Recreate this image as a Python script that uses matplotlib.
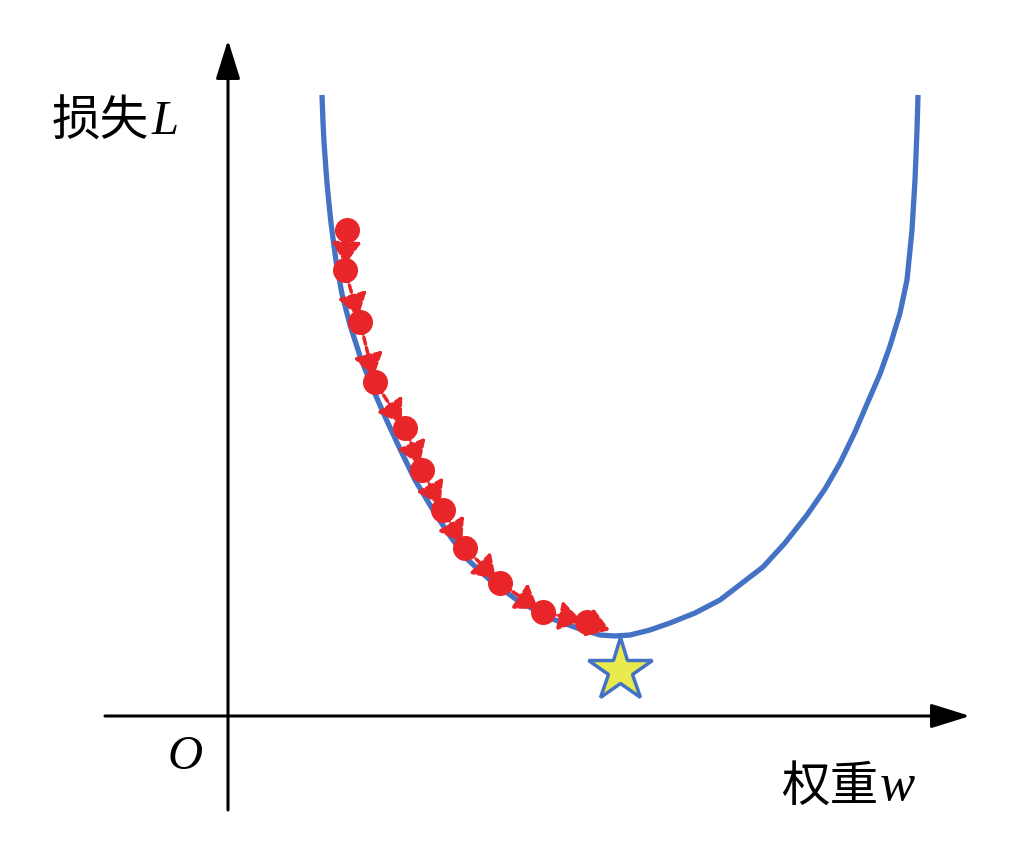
import numpy as np
import matplotlib
matplotlib.use('Agg')
import matplotlib.pyplot as plt

# loss curve L(w), left and right branch
left_w = [0.94, 0.95, 0.96, 0.98, 0.99, 1.01, 1.03, 1.08, 1.14, 1.22, 1.32,
          1.44, 1.59, 1.72, 1.87, 2.05, 2.22, 2.39, 2.62, 2.89, 3.19, 3.49,
          3.72, 3.87, 4.02]
left_L = [6.21, 5.94, 5.74, 5.46, 5.33, 5.12, 4.93, 4.55, 4.22, 3.91, 3.60,
          3.29, 2.95, 2.67, 2.36, 2.06, 1.80, 1.57, 1.36, 1.16, 0.99, 0.88,
          0.81, 0.80, 0.81]
right_w = [4.22, 4.42, 4.67, 4.92, 5.35, 5.57, 5.79, 5.97, 6.12, 6.27, 6.39,
           6.52, 6.62, 6.72, 6.79, 6.84, 6.87, 6.89, 6.90]
right_L = [0.86, 0.93, 1.03, 1.16, 1.49, 1.73, 2.01, 2.27, 2.53, 2.84, 3.12,
           3.42, 3.70, 4.03, 4.36, 4.86, 5.36, 5.86, 6.21]

# gradient descent steps
step_w = [1.19, 1.17, 1.32, 1.47, 1.77, 1.94, 2.15, 2.37, 2.72, 3.15, 3.59]
step_L = [4.86, 4.46, 3.94, 3.34, 2.88, 2.46, 2.06, 1.68, 1.33, 1.04, 0.94]
end_w, end_L = 3.87, 0.84

# optimum
star_w, star_L = 3.92, 0.46

blue = '#4472C4'
red = '#E8262A'

fig = plt.figure(figsize=(10.24, 8.56), dpi=100)
ax = fig.add_axes([0, 0, 1, 1])
ax.set_xlim(-2.28, 7.96)
ax.set_ylim(-1.40, 7.16)
ax.axis('off')

# axes with arrows
axis_style = '-|>,head_length=0.8,head_width=0.25'
ax.annotate('', xy=(7.42, 0), xytext=(-1.23, 0),
            arrowprops=dict(arrowstyle=axis_style, lw=2.2, color='k',
                            mutation_scale=30, shrinkA=0, shrinkB=0))
ax.annotate('', xy=(0, 6.76), xytext=(0, -0.94),
            arrowprops=dict(arrowstyle=axis_style, lw=2.2, color='k',
                            mutation_scale=30, shrinkA=0, shrinkB=0))

curve_w = left_w + right_w
curve_L = left_L + right_L
ax.plot(curve_w, curve_L, color=blue, lw=3.8, solid_capstyle='butt',
        solid_joinstyle='round', zorder=2)

# step arrows
xs = step_w + [end_w]
ys = step_L + [end_L]
for i in range(len(xs) - 1):
    ax.annotate('', xy=(xs[i + 1], ys[i + 1]), xytext=(xs[i], ys[i]),
                arrowprops=dict(arrowstyle='-|>,head_length=0.6,head_width=0.4',
                                lw=2.5, color=red, linestyle=(0, (2, 1)),
                                mutation_scale=22, shrinkA=4, shrinkB=4),
                zorder=3)
ax.plot(step_w, step_L, 'o', color=red, markersize=17, zorder=4)

ax.plot([star_w], [star_L], marker='*', markersize=48, color='#E9EA4E',
        markeredgecolor=blue, markeredgewidth=2.5, linestyle='none', zorder=5)

cjk = ['Noto Sans CJK SC', 'DejaVu Sans']
ax.text(-0.79, 5.94, '损失', family=cjk, fontsize=35, ha='right', va='center')
ax.text(-0.76, 5.94, 'L', family='Liberation Serif', style='italic',
        fontsize=35, ha='left', va='center')
ax.text(6.50, -0.71, '权重', family=cjk, fontsize=35, ha='right', va='center')
ax.text(6.52, -0.71, 'w', family='Liberation Serif', style='italic',
        fontsize=38, ha='left', va='center')
ax.text(-0.43, -0.41, 'O', family='Liberation Serif', style='italic',
        fontsize=35, ha='center', va='center')

fig.savefig('out.png', dpi=100)
